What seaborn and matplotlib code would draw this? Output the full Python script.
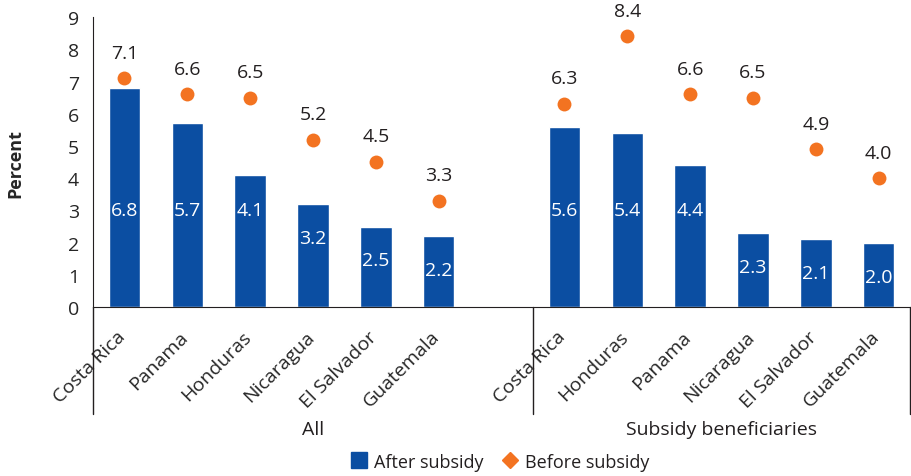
import pandas as pd
import seaborn as sns
from matplotlib import pyplot as plt
from matplotlib import transforms
from matplotlib.lines import Line2D

countries_all = ["Costa Rica", "Panama", "Honduras", "Nicaragua", "El Salvador", "Guatemala"]
after_all = [6.8, 5.7, 4.1, 3.2, 2.5, 2.2]
before_all = [7.1, 6.6, 6.5, 5.2, 4.5, 3.3]

countries_sub = ["Costa Rica", "Honduras", "Panama", "Nicaragua", "El Salvador", "Guatemala"]
after_sub = [5.6, 5.4, 4.4, 2.3, 2.1, 2.0]
before_sub = [6.3, 8.4, 6.6, 6.5, 4.9, 4.0]

groups = ["All", "Subsidy beneficiaries"]

BLUE = "#0B4EA2"
ORANGE = "#F37321"
INK = "#231F20"

sns.set_style("white")
plt.rcParams["font.family"] = ["Open Sans", "DejaVu Sans"]
plt.rcParams["text.color"] = INK
plt.rcParams["axes.edgecolor"] = INK

# one row per bar, keyed by group so the duplicate country names stay apart
df = pd.DataFrame({
    "group": [groups[0]] * 6 + [groups[1]] * 6,
    "country": countries_all + countries_sub,
    "after": after_all + after_sub,
    "before": before_all + before_sub,
})
df["key"] = df["group"] + "|" + df["country"]
keys_all = list(df.loc[df.group == groups[0], "key"])
keys_sub = list(df.loc[df.group == groups[1], "key"])
order = keys_all + ["gap"] + keys_sub

fig = plt.figure(figsize=(9.12, 4.77), dpi=100)
ax = fig.add_axes([0.102, 0.354, 0.896, 0.608])

sns.barplot(data=df, x="key", y="after", order=order, color=BLUE,
            width=0.5, saturation=1, ax=ax)
sns.stripplot(data=df, x="key", y="before", order=order, color=ORANGE,
              jitter=False, size=10, linewidth=0, ax=ax, zorder=5)

for i, k in enumerate(order):
    if k == "gap":
        continue
    row = df[df.key == k].iloc[0]
    ax.text(i, min(3.0, row["after"] - 1.05), f"{row['after']:.1f}", color="white",
            ha="center", va="center", fontsize=14)
    ax.annotate(f"{row['before']:.1f}", (i, row["before"]), xytext=(0, 12),
                textcoords="offset points", ha="center", va="bottom", fontsize=14)

ax.set_ylim(0, 9)
ax.set_xlim(-0.5, len(order) - 0.5)
ax.set_yticks(range(10))
ax.tick_params(axis="y", length=6, width=1, labelsize=14, color=INK, pad=4)
ax.set_ylabel("Percent", fontsize=13, fontweight="bold", labelpad=31)
ax.set_xlabel("")

ax.set_xticks(range(len(order)))
ax.set_xticklabels([k.split("|")[1] if "|" in k else "" for k in order],
                   rotation=45, ha="right", va="top", rotation_mode="anchor", fontsize=14)
ax.tick_params(axis="x", which="major", length=0, pad=10)
ax.set_xticks([i - 0.5 for i in range(len(order) + 1)], minor=True)
ax.tick_params(axis="x", which="minor", length=6, width=1, color=INK)
shift = transforms.ScaledTranslation(-8 / 100, -6 / 100, fig.dpi_scale_trans)
for lbl in ax.get_xticklabels():
    lbl.set_transform(lbl.get_transform() + shift)
    lbl.set_bbox(dict(facecolor="white", edgecolor="none", pad=0))
    lbl.set_zorder(10)

sns.despine(ax=ax, top=True, right=True)

# group dividers and labels below the axis
trans = transforms.blended_transform_factory(ax.transData, fig.transFigure)
for xd in [-0.5, 6.5, len(order) - 0.5]:
    fig.add_artist(Line2D([xd, xd], [0.354, 0.13], transform=trans,
                          color=INK, lw=1, zorder=1))
ax.text(3.0, 0.098, groups[0], transform=trans, ha="center", va="center", fontsize=14)
ax.text(9.5, 0.098, groups[1], transform=trans, ha="center", va="center", fontsize=14)

handles = [
    Line2D([], [], marker="s", color=BLUE, ls="none", markersize=11),
    Line2D([], [], marker="D", color=ORANGE, ls="none", markersize=8),
]
fig.legend(handles, ["After subsidy", "Before subsidy"], loc="center",
           bbox_to_anchor=(0.548, 0.03), ncol=2, frameon=False, fontsize=13,
           handletextpad=0.3, columnspacing=1.0, handlelength=1.0)

fig.savefig("out.png", dpi=100)
